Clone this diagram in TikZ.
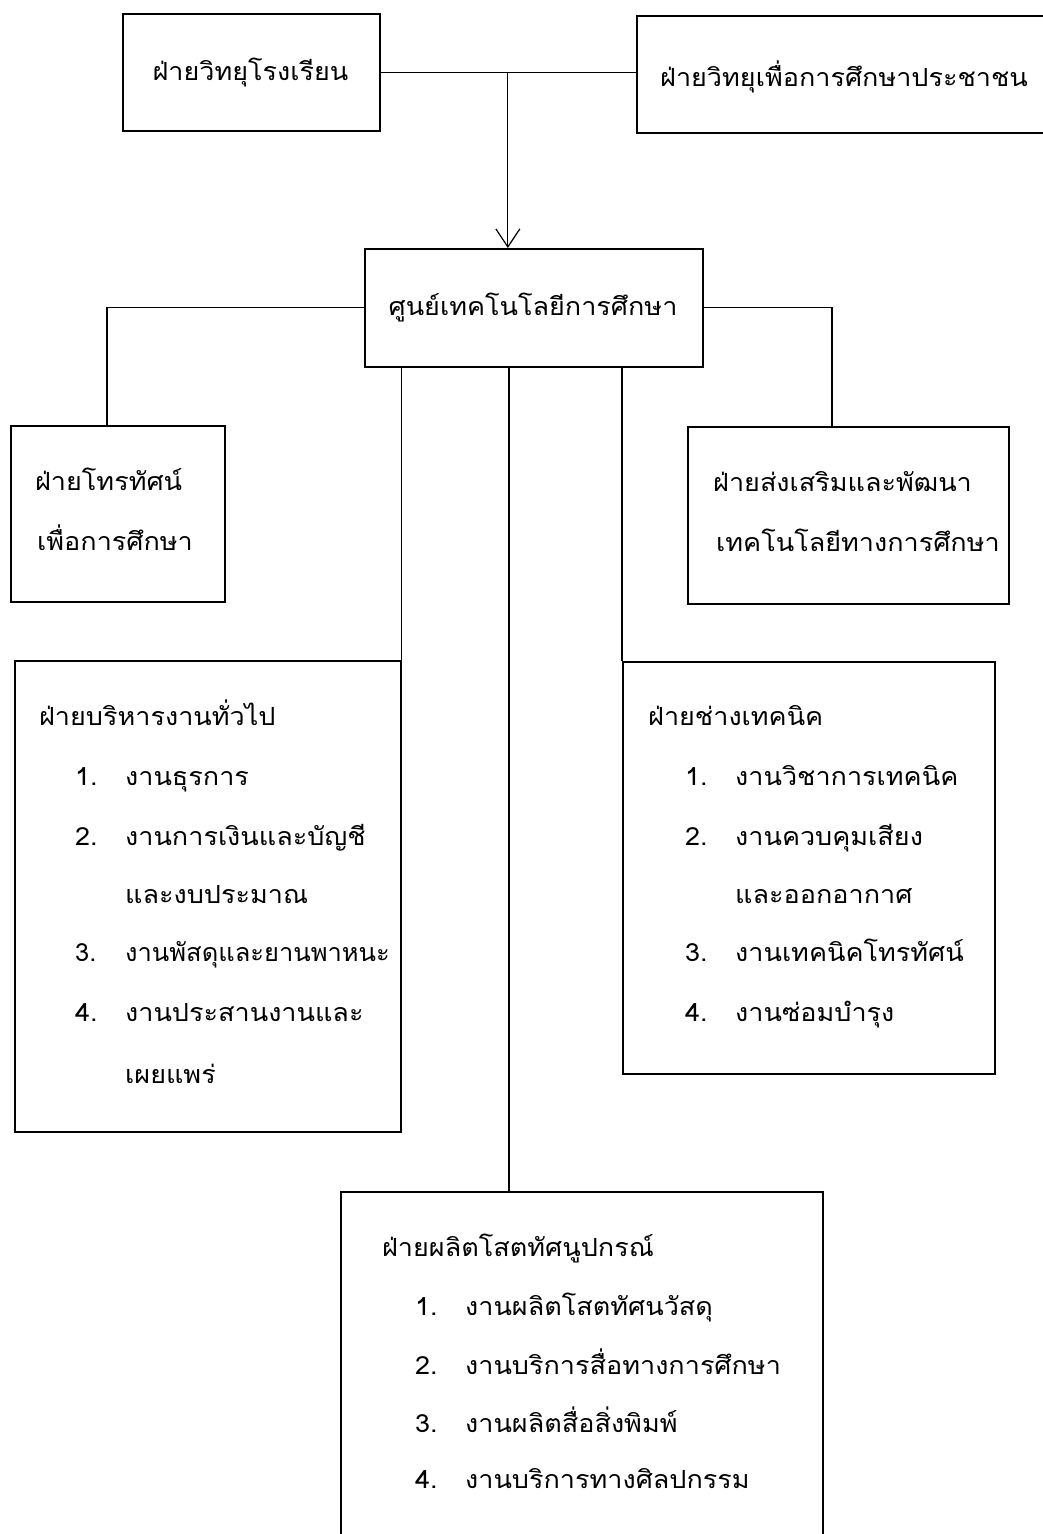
\documentclass[tikz,border=0pt]{standalone}
\usepackage{fontspec}
\newfontfamily\thaifont[Script=Thai, FakeStretch=1.08]{Loma}
\newfontfamily\thainarrow[Script=Thai, FakeStretch=1.02]{Loma}
\usetikzlibrary{arrows.meta}
% list entry: number in a fixed-width slot, then the text
\newcommand\listentry[2]{\makebox[50pt][l]{#1}#2}
\begin{document}
\begin{tikzpicture}[x=1pt,y=-1pt,
  box/.style={draw, line width=1.7pt, inner sep=0pt, anchor=north west},
  conn/.style={draw, line width=1.2pt},
  lbl/.style={font=\thaifont\fontsize{25}{30}\selectfont, inner sep=0pt, anchor=base west},
  lblnarrow/.style={lbl, font=\thainarrow\fontsize{25}{30}\selectfont},
  clbl/.style={lbl, anchor=base}]
\fill[white] (0,0) rectangle (1043,1534);
\useasboundingbox (0,0) rectangle (1043,1534);

% top row
\node[box, minimum width=257pt, minimum height=117pt] (radio) at (122,13) {};
\node[clbl] (radiot) at (250.5,80) {ฝ่ายวิทยุโรงเรียน};
\node[box, minimum width=430pt, minimum height=117pt] (pubradio) at (636,15) {};
\node[lbl] (pubradiot) at (660,86) {ฝ่ายวิทยุเพื่อการศึกษาประชาชน};

% centre
\node[box, minimum width=338pt, minimum height=118pt] (centre) at (364,248) {};
\node[clbl] (centret) at (533,315) {ศูนย์เทคโนโลยีการศึกษา};

% second row
\node[box, minimum width=214pt, minimum height=176pt] (tv) at (10,425) {};
\node[lbl] (tvt1) at (35,490) {ฝ่ายโทรทัศน์};
\node[lbl] (tvt2) at (37,550) {เพื่อการศึกษา};
\node[box, minimum width=321pt, minimum height=177pt] (prom) at (687,426) {};
\node[lbl] (promt1) at (713,491) {ฝ่ายส่งเสริมและพัฒนา};
\node[lbl] (promt2) at (716,551) {เทคโนโลยีทางการศึกษา};

% general administration
\node[box, minimum width=386pt, minimum height=471pt] (admin) at (14,660) {};
\node[lbl] (admint) at (39,725) {ฝ่ายบริหารงานทั่วไป};
\node[lbl] (admin1) at (75,785) {\listentry{1.}{งานธุรการ}};
\node[lbl] (admin2) at (75,845) {\listentry{2.}{งานการเงินและบัญชี}};
\node[lbl] (admin2b) at (125,903) {และงบประมาณ};
\node[lblnarrow] (admin3) at (75,961) {\listentry{3.}{งานพัสดุและยานพาหนะ}};
\node[lbl] (admin4) at (75,1021) {\listentry{4.}{งานประสานงานและ}};
\node[lbl] (admin4b) at (125,1083) {เผยแพร่};

% technical
\node[box, minimum width=372pt, minimum height=412pt] (tech) at (622,661) {};
\node[lbl] (techt) at (648,725) {ฝ่ายช่างเทคนิค};
\node[lbl] (tech1) at (685,785) {\listentry{1.}{งานวิชาการเทคนิค}};
\node[lbl] (tech2) at (685,845) {\listentry{2.}{งานควบคุมเสียง}};
\node[lbl] (tech2b) at (735,903) {และออกอากาศ};
\node[lbl] (tech3) at (685,961) {\listentry{3.}{งานเทคนิคโทรทัศน์}};
\node[lbl] (tech4) at (685,1021) {\listentry{4.}{งานซ่อมบำรุง}};

% audio-visual production
\node[box, minimum width=482pt, minimum height=380pt] (prod) at (340,1191) {};
\node[lbl] (prodt) at (382,1256) {ฝ่ายผลิตโสตทัศนูปกรณ์};
\node[lbl] (prod1) at (415,1315) {\listentry{1.}{งานผลิตโสตทัศนวัสดุ}};
\node[lbl] (prod2) at (415,1374) {\listentry{2.}{งานบริการสื่อทางการศึกษา}};
\node[lbl] (prod3) at (415,1432) {\listentry{3.}{งานผลิตสื่อสิ่งพิมพ์}};
\node[lbl] (prod4) at (415,1488) {\listentry{4.}{งานบริการทางศิลปกรรม}};

% connectors
\coordinate (tj) at ([xshift=-26pt]centre.north);
\coordinate (pj) at ([xshift=169pt]prod.north west);
\draw[conn] (radio.east) -- (radio.east -| pubradio.west);
\draw[conn, -{Straight Barb[length=18pt, width=24pt, line width=1.2pt]}] (tj |- radio.east) -- (tj);
\draw[conn] (centre.west) -| ([xshift=97pt]tv.north west);
\draw[conn] (centre.east) -| ([xshift=145pt]prom.north west);
\draw[conn] (centre.south -| admin.north east) -- (admin.north east);
\draw[conn] (pj |- centre.south) -- (pj);
\draw[conn] (centre.south -| tech.north west) -- (tech.north west);
\end{tikzpicture}
\end{document}
